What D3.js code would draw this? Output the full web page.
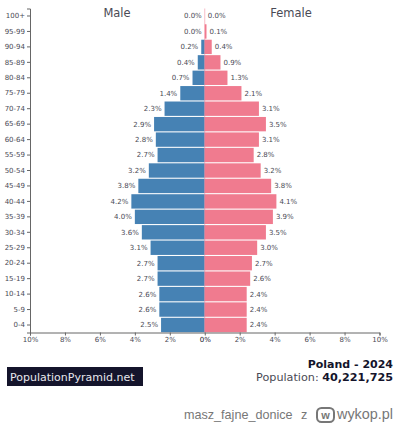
<!DOCTYPE html>
<html><head><meta charset="utf-8">
<script src="https://cdn.jsdelivr.net/npm/d3@7"></script>
<style>html,body{margin:0;padding:0;background:#fff}svg{display:block;font-family:"DejaVu Sans",sans-serif}</style>
</head><body><svg id="c" width="400" height="424"></svg>
<script>
const ages = ["100+","95-99","90-94","85-89","80-84","75-79","70-74","65-69","60-64","55-59","50-54","45-49","40-44","35-39","30-34","25-29","20-24","15-19","10-14","5-9","0-4"];
const male = [0.0,0.0,0.2,0.4,0.7,1.4,2.3,2.9,2.8,2.7,3.2,3.8,4.2,4.0,3.6,3.1,2.7,2.7,2.6,2.6,2.5];
const female = [0.0,0.1,0.4,0.9,1.3,2.1,3.1,3.5,3.1,2.8,3.2,3.8,4.1,3.9,3.5,3.0,2.7,2.6,2.4,2.4,2.4];
const xTicks = [-10,-8,-6,-4,-2,0,2,4,6,8,10];
const ink = "#4a4a55", dark = "#14142b";
const svg = d3.select("#c");
const x = d3.scaleLinear().domain([-10,10]).range([30,379.5]);
const y = d3.scaleBand().domain(ages).range([8.5,332.5]).paddingInner(0.07).paddingOuter(0.02);

const bars = [[male,"#4682b4",v=>x(-v),v=>x(0)-x(-v)],[female,"#f07b8f",()=>x(0),v=>x(v)-x(0)]];
bars.forEach(([vals,col,bx,bw])=>{
  svg.append("g").selectAll("rect").data(vals).join("rect")
    .attr("x",d=>bx(d)).attr("width",d=>bw(d))
    .attr("y",(d,i)=>y(ages[i])).attr("height",y.bandwidth()).attr("fill",col);
});
svg.append("line").attr("x1",x(0)).attr("x2",x(0)).attr("y1",8.5).attr("y2",332.5).attr("stroke","#f07b8f").attr("stroke-opacity",0.5).attr("stroke-width",1);

const label = (vals,sign,anchor)=>svg.append("g").selectAll("text").data(vals).join("text")
  .attr("x",d=>x(sign*d)+sign*3).attr("y",(d,i)=>y(ages[i])+y.bandwidth()/2+2.4)
  .attr("text-anchor",anchor).attr("font-size",7).attr("fill",ink).text(d=>d.toFixed(1)+"%");
label(male,-1,"end"); label(female,1,"start");

const yAxis = svg.append("g").attr("transform","translate(30,0)").call(d3.axisLeft(y).tickSize(3).tickPadding(2));
const xAxis = svg.append("g").attr("transform","translate(0,332.5)").call(d3.axisBottom(x).tickValues(xTicks).tickSize(3).tickPadding(2).tickFormat(d=>Math.abs(d)+"%"));
[yAxis,xAxis].forEach(a=>{
  a.selectAll("path,line").attr("stroke","#666").attr("stroke-width",1);
  a.selectAll("text").attr("font-size",7).attr("fill",ink).attr("font-family","DejaVu Sans");
});
xAxis.selectAll("text").filter(d=>d===0).attr("fill",dark);

svg.append("text").attr("x",117).attr("y",17).attr("text-anchor","middle").attr("font-size",11.5).attr("fill",ink).text("Male");
svg.append("text").attr("x",291).attr("y",17).attr("text-anchor","middle").attr("font-size",11.5).attr("fill",ink).text("Female");

svg.append("rect").attr("x",7).attr("y",367).attr("width",136).attr("height",19).attr("fill",dark);
svg.append("text").attr("x",10).attr("y",381).attr("font-size",11).attr("fill","#e8e8ee").text("PopulationPyramid.net");

svg.append("text").attr("x",393).attr("y",368).attr("text-anchor","end").attr("font-size",11).attr("font-weight","bold").attr("fill",dark).text("Poland - 2024");
const p = svg.append("text").attr("x",393).attr("y",381).attr("text-anchor","end").attr("font-size",11.2).attr("fill",ink);
p.append("tspan").text("Population: ");
p.append("tspan").attr("font-weight","bold").attr("fill",dark).text("40,221,725");

const foot = "#777";
const sans = "Liberation Sans";
svg.append("text").attr("x",184).attr("y",419).attr("font-family",sans).attr("font-size",12.6).attr("fill",foot).text("masz_fajne_donice");
svg.append("text").attr("x",301).attr("y",419).attr("font-family",sans).attr("font-size",12.6).attr("fill",foot).text("z");
svg.append("rect").attr("x",317).attr("y",408).attr("width",17).attr("height",14).attr("rx",4.5).attr("fill","none").attr("stroke",foot).attr("stroke-width",2);
svg.append("text").attr("x",325.5).attr("y",418.5).attr("text-anchor","middle").attr("font-family",sans).attr("font-size",11).attr("font-weight","bold").attr("fill",foot).text("w");
svg.append("text").attr("x",337).attr("y",419).attr("font-family",sans).attr("font-size",14.4).attr("fill",foot).text("wykop.pl");
</script></body></html>
